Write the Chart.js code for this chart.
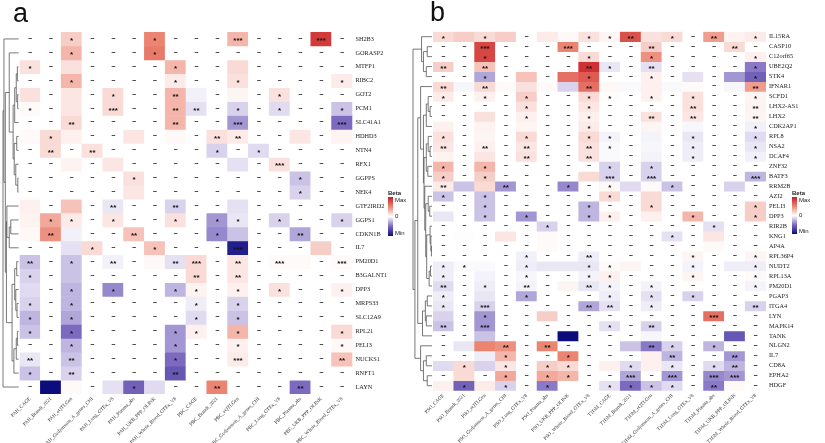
<!DOCTYPE html>
<html>
<head>
<meta charset="utf-8">
<script src="https://cdn.jsdelivr.net/npm/chart.js@4/dist/chart.umd.min.js"></script>
<style>
body{margin:0;background:#fff;width:825px;height:443px;overflow:hidden;position:relative;font-family:"Liberation Sans",Arial,sans-serif}
canvas{position:absolute;top:0}
#ca{left:0}
#cb{left:410px}
.tag{position:absolute;font-size:27px;line-height:1;color:#111}
</style>
</head>
<body>
<canvas id="ca" width="410" height="443"></canvas>
<canvas id="cb" width="415" height="443"></canvas>
<div class="tag" style="left:13px;top:0px">a</div>
<div class="tag" style="left:430px;top:-1px">b</div>
<script>
const n = null;

// ---- panel a ----
const srcCols = ['CAGE','Brandt_2021','eQTLGen','Gudjonsson_A_genes_CHI','Lung_GTEx_V8','Plasma_abs','UKB_PPP_OLINK','Whole_Blood_GTEx_V8'];
const colsA = [...srcCols.map(s => 'PAH_' + s), ...srcCols.map(s => 'PBC_' + s)];
const colsB = [...srcCols.map(s => 'PSO_' + s), ...srcCols.map(s => 'T1DM_' + s)];

const genesA = ['SH2B3','GORASP2','MTFP1','RIBC2','GOT2','PCM1','SLC41A1','HDHD3','NTN4','RFX1','GGPPS','NEK4',
  'GTF2IRD2','GGPS1','CDKN1B','IL7','PM20D1','B3GALNT1','DPP3','MRPS33','SLC12A9','RPL21','PELI3','NUCKS1','RNFT1','LAYN'];

// scaled beta, -1 = Min, 1 = Max, null = not available
const betaA = [
  [n,n,.2,n,n,n,.5,n,n,n,.3,n,n,n,.85,n],
  [n,n,.3,n,n,n,.55,n,n,n,n,n,n,n,n,n],
  [.12,n,.12,n,n,n,n,.3,n,n,.15,n,n,n,n,n],
  [n,n,.3,n,n,n,n,.08,n,n,.12,n,n,n,n,.08],
  [.12,n,.1,n,.15,n,n,.3,-.05,n,.04,n,.12,n,n,n],
  [.02,n,.1,n,.15,n,n,.3,-.1,n,-.15,n,-.12,n,n,-.2],
  [n,n,.15,n,n,n,n,.3,n,n,-.35,n,n,n,n,-.5],
  [.02,.15,.06,n,n,.1,n,.03,n,.12,.08,n,n,.1,n,.05],
  [n,.15,n,.12,n,n,n,n,n,-.15,n,-.12,n,n,n,n],
  [n,n,.05,n,.1,n,n,n,n,n,-.1,n,.12,n,n,n],
  [n,n,n,n,n,.12,n,n,n,n,n,n,n,-.2,n,n],
  [n,n,n,n,n,.1,n,n,n,n,n,n,n,-.15,n,n],
  [.06,n,.25,n,-.08,n,n,-.15,n,n,-.1,n,n,n,n,n],
  [.05,.35,.08,n,.1,n,n,.12,n,-.35,-.08,n,-.15,n,n,-.15],
  [.03,.45,-.05,n,n,.25,n,n,n,-.4,-.2,n,n,-.3,n,n],
  [n,n,-.1,.15,n,n,.25,n,n,n,-.9,n,n,n,.2,n],
  [-.2,n,-.2,n,-.05,n,.03,-.1,.15,n,.1,n,.02,.02,n,.02],
  [-.15,n,-.2,n,n,n,n,n,.15,n,.1,n,n,n,n,n],
  [-.12,n,-.25,n,-.4,n,n,-.25,.05,n,.06,n,.12,n,n,.06],
  [-.15,n,-.25,n,n,n,n,n,-.06,n,-.15,n,n,n,n,n],
  [-.25,n,-.3,n,n,n,n,n,-.12,n,-.2,n,n,n,n,n],
  [-.2,n,-.5,n,n,n,n,-.35,.06,n,.3,n,n,n,n,.15],
  [n,n,-.25,n,n,n,n,-.35,n,n,.06,n,n,n,n,.03],
  [-.08,n,-.2,n,n,n,n,-.5,n,n,.08,n,n,n,n,.25],
  [-.2,n,-.15,n,n,n,n,-.6,n,n,n,n,n,n,n,n],
  [n,-1,.02,n,-.1,-.55,-.12,n,n,.5,n,n,n,-.5,n,n]
];
// "-" not available, "." no star
const sigA = [
  '- - * - - - * - - - *** - - - *** -',
  '- - * - - - * - - - - - - - - -',
  '* - . - - - - * - - . - - - - -',
  '- - * - - - - * - - * - - - - *',
  '. - . - * - - ** . - . - * - - -',
  '* - . - *** - - ** ** - * - * - - *',
  '- - ** - - - - ** - - *** - - - - ***',
  '. * . - - . - . - ** ** - - . - .',
  '- ** - ** - - - - - * - * - - - -',
  '- - . - . - - - - - . - *** - - -',
  '- - - - - * - - - - - - - * - -',
  '- - - - - . - - - - - - - * - -',
  '. - . - ** - - ** - - . - - - - -',
  '. * * - * - - * - * * - * - - *',
  '. ** . - - ** - - - * . - - ** - -',
  '- - . * - - * - - - *** - - - . -',
  '** - * - ** - . ** *** - ** - *** . - ***',
  '* - . - - - - - ** - ** - - - - -',
  '. - * - * - - * * - * - * - - *',
  '* - * - - - - - * - * - - - - -',
  '* - * - - - - - * - * - - - - -',
  '* - * - - - - * * - * - - - - *',
  '- - * - - - - * - - * - - - - *',
  '** - ** - - - - * - - *** - - - - **',
  '* - ** - - - - ** - - - - - - - -',
  '- . . - . * . - - ** - - - ** - -'
];
// [height, left, right], leaves are row indexes
const treeA = [1.0, [0.94, 0, [0.85,
    [0.6, 1, [0.35, [0.25, [0.15, [0.08, 2, 3], [0.06, 4, 5]], 6], [0.28, [0.12, 7, 8], [0.18, 9, [0.05, 10, 11]]]]],
    [0.78, [0.75, 12, [0.6, [0.5, 13, 14], 15]],
      [0.42, [0.25, [0.12, 16, 17], [0.18, 18, [0.1, 19, 20]]], [0.3, [0.15, [0.08, 21, 22], 23], 24]]]]],
  25];

// ---- panel b ----
const genesB = ['IL15RA','CASP10','C12orf65','UBE2Q2','STK4','IFNAR1','SCFD1','LHX2-AS1','LHX2','CDK2AP1','RPL8','NSA2',
  'DCAF4','ZNF32','BATF3','RRM2B','AZI2','PELI3','DPP3','RIR2B','KNG1','AP4A','RPL36P4','NUDT2','RPL13A','PM20D1',
  'PGAP3','ITGA4','LYN','MAPK14','TANK','NLGN2','IL7','CD8A','EPHA2','HDGF'];

const betaB = [
  [.15,.2,.15,.2,n,.08,.03,.12,.04,.75,.12,.15,n,.4,.05,.08],
  [n,n,.8,n,n,n,.5,n,n,n,.2,n,n,n,.15,n],
  [n,n,.8,n,n,n,n,.15,n,n,.45,n,n,n,n,.06],
  [.2,n,.25,n,n,n,n,.9,-.08,n,-.1,n,n,n,n,-.45],
  [n,n,-.3,n,.25,n,.6,.7,n,n,.06,n,-.1,n,-.35,-.55],
  [.15,-.03,.15,.02,.12,.02,-.15,.6,.03,-.02,.06,-.02,.02,n,-.03,.4],
  [.08,n,.06,n,.2,n,n,.15,.01,n,.06,n,.12,n,n,.04],
  [n,n,n,n,.12,n,n,.1,n,n,n,n,.12,n,n,.05],
  [n,n,.12,n,.06,n,n,.06,n,n,.12,n,.1,n,n,.04],
  [.06,n,.05,n,.04,n,n,.08,n,n,.04,n,-.03,n,n,-.05],
  [.12,n,.04,n,.15,n,n,.15,-.04,n,-.04,n,-.08,n,n,-.12],
  [.1,n,.06,n,.1,n,n,.12,-.02,n,-.03,n,-.06,n,n,-.08],
  [.05,n,.1,n,.12,n,n,.12,-.02,n,-.04,n,-.06,n,n,-.05],
  [.3,n,.3,n,n,n,n,n,-.15,n,-.15,n,n,n,n,n],
  [.2,n,.2,n,n,n,n,.15,-.15,n,-.15,n,n,n,n,-.25],
  [.08,-.2,.15,-.35,n,n,-.4,n,.03,-.12,.02,-.2,n,n,-.15,n],
  [-.2,n,-.2,n,n,n,n,n,.15,n,.15,n,n,n,n,n],
  [n,n,-.2,n,n,n,n,-.25,n,n,.15,n,n,n,n,.2],
  [-.08,n,-.2,n,-.35,n,n,-.25,.06,n,.06,n,.3,n,n,.2],
  [n,n,n,n,n,-.15,n,n,n,n,n,n,n,-.1,n,n],
  [n,.01,n,.1,n,.02,n,n,n,n,n,-.1,n,.1,n,n],
  [n,n,n,n,n,.02,n,n,n,n,n,n,n,.02,n,n],
  [n,n,n,n,-.05,n,n,-.06,n,n,n,n,.04,n,n,.04],
  [-.06,-.02,-.02,n,-.06,-.08,-.08,-.08,.02,.04,n,n,-.04,n,-.06,-.06],
  [-.06,n,-.04,n,-.03,n,n,-.04,.06,n,n,n,.04,n,n,.02],
  [-.12,n,-.06,n,-.04,n,.04,-.08,-.04,n,-.04,n,n,n,n,-.04],
  [-.06,n,-.08,n,-.3,n,n,n,-.06,n,-.1,n,-.15,n,n,n],
  [-.08,n,-.15,n,n,n,n,-.3,-.1,n,-.06,n,n,n,n,-.15],
  [-.15,n,-.35,n,n,.2,n,n,n,n,n,n,n,.6,n,n],
  [-.2,n,-.35,n,n,n,n,n,-.1,n,-.15,n,n,n,n,n],
  [n,n,-.2,n,n,n,-1,n,n,n,-.03,n,n,n,-.6,n],
  [n,-.08,.5,.45,n,.5,n,n,n,-.2,-.45,-.15,n,-.25,n,n],
  [n,n,-.06,.3,n,n,.5,n,n,n,.06,-.25,n,n,-.35,n],
  [-.12,.15,-.15,.1,n,.2,.15,n,.06,-.12,.06,-.08,n,-.12,-.25,n],
  [n,.15,n,.35,n,.35,.3,n,n,-.3,n,-.35,n,-.4,-.35,n],
  [.06,-.55,.08,-.15,n,-.45,0,n,-.1,-.5,-.2,-.12,n,-.45,.03,n]
];
const sigB = [
  '* . * . - . . * * ** . * - ** . *',
  '- - *** - - - *** - - - ** - - - ** -',
  '- - * - - - - * - - * - - - - *',
  '** - ** - - - - ** * - ** - - - - *',
  '- - * - . - . * - - * - . - . *',
  '** . ** . . . . ** . . . . . - . **',
  '* - * - * - - * * - * - * - - *',
  '- - - - * - - * - - - - ** - - **',
  '- - . - * - - * - - ** - ** - - **',
  '. - . - . - - * - - . - . - - *',
  '* - . - * - - * * - . - * - - *',
  '** - ** - ** - - ** * - . - * - - *',
  '. - . - ** - - ** . - . - * - - *',
  '* - * - - - - - * - * - - - - -',
  '* - * - - - - . *** - *** - - - - ***',
  '** . . ** - - * - * . . * - - . -',
  '* - * - - - - - * - . - - - - -',
  '- - * - - - - * - - * - - - - *',
  '. - * - * - - * * - . - * - - *',
  '- - - - - * - - - - - - - * - -',
  '- . - . - . - - - - - * - . - -',
  '- - - - - . - - - - - - - . - -',
  '- - - - * - - ** - - - - * - - *',
  '* * . - * . . * * . - - * - . *',
  '* - . - * - - * * - - - * - - *',
  '** - * - ** - . ** * - * - - - - *',
  '* - . - * - - - * - * - * - - -',
  '* - *** - - - - ** ** - * - - - - **',
  '. - * - - . - - - - - - - *** - -',
  '** - *** - - - - - * - ** - - - - -',
  '- - . - - - . - - - . - - - . -',
  '- . . ** - ** - - - . ** * - * - -',
  '- - . * - - * - - - . ** - - ** -',
  '. * . * - * * - . * . * - * ** -',
  '- . - * - * * - - *** - *** - *** *** -',
  '. * . * - * . - * * * * - ** . -'
];
const treeB = [1.0,
  [0.55, 0, [0.45, [0.25, 1, 2], [0.3, 3, 4]]],
  [0.9,
    [0.75,
      [0.6, 5, [0.45, [0.3, [0.2, 6, [0.1, 7, 8]], 9],
        [0.42, [0.3, [0.2, 10, [0.1, 11, 12]], [0.22, 13, 14]],
          [0.38, 15, [0.33, [0.2, 16, [0.12, 17, 18]],
            [0.28, [0.1, 19, [0.06, 20, [0.03, 21, 22]]], [0.15, [0.08, 23, 24], 25]]]]]]],
      [0.5, [0.35, [0.25, 26, 27], [0.3, 28, 29]], 30]],
    [0.6, 31, [0.45, [0.3, 32, 33], [0.25, 34, 35]]]]];

// ---- colours ----
const stops = [[-1,[12,12,125]],[-0.5,[124,106,192]],[0,[255,255,255]],[0.5,[236,132,114]],[1,[200,28,34]]];
function betaColor(v){
  if (v === null) return '#ffffff';
  v = Math.max(-1, Math.min(1, v));
  for (let k = 0; k < stops.length - 1; k++) {
    const [a, ca] = stops[k], [b, cb] = stops[k + 1];
    if (v <= b) {
      const t = (v - a) / (b - a);
      return 'rgb(' + ca.map((c, i) => Math.round(c + (cb[i] - c) * t)).join(',') + ')';
    }
  }
}

function dendroPlugin(tree, rootX){
  return {id: 'dendro', afterDraw(chart){
    const ctx = chart.ctx, ys = chart.scales.y, left = chart.chartArea.left - 1;
    const hx = h => left - h * (left - rootX);
    ctx.save();
    ctx.strokeStyle = '#555';
    ctx.lineWidth = 0.8;
    function walk(node){
      if (typeof node === 'number') return {x: left, y: ys.getPixelForValue(node + 0.5)};
      const [h, a, b] = node;
      const pa = walk(a), pb = walk(b), x = hx(h);
      ctx.beginPath();
      ctx.moveTo(pa.x, pa.y); ctx.lineTo(x, pa.y); ctx.lineTo(x, pb.y); ctx.lineTo(pb.x, pb.y);
      ctx.stroke();
      return {x, y: (pa.y + pb.y) / 2};
    }
    walk(tree);
    ctx.restore();
  }};
}

function sigPlugin(sig){
  return {id: 'sig', afterDatasetsDraw(chart){
    const ctx = chart.ctx;
    ctx.save();
    ctx.fillStyle = '#111';
    ctx.textAlign = 'center';
    ctx.textBaseline = 'middle';
    sig.forEach((row, i) => {
      const meta = chart.getDatasetMeta(i);
      row.split(' ').forEach((t, j) => {
        const bar = meta.data[j];
        const cx = bar.x, cy = (bar.y + bar.base) / 2;
        if (t === '-') {
          ctx.font = 'bold 7px "Liberation Sans"';
          ctx.fillText('\u2212', cx, cy);
        } else if (t !== '.') {
          ctx.font = 'bold 8px "Liberation Sans"';
          ctx.fillText(t, cx, cy + 2);
        }
      });
    });
    ctx.restore();
  }};
}

function legendPlugin(x, top, h){
  return {id: 'betaLegend', afterDraw(chart){
    const ctx = chart.ctx;
    const g = ctx.createLinearGradient(0, top, 0, top + h);
    [[0,1],[0.25,0.5],[0.5,0],[0.75,-0.5],[1,-1]].forEach(([o, v]) => g.addColorStop(o, betaColor(v)));
    ctx.save();
    ctx.fillStyle = g;
    ctx.fillRect(x, top, 5, h);
    ctx.fillStyle = '#222';
    ctx.textAlign = 'left';
    ctx.font = 'bold 6px "Liberation Sans"';
    ctx.textBaseline = 'alphabetic';
    ctx.fillText('Beta', x, top - 2);
    ctx.font = '6px "Liberation Sans"';
    ctx.textBaseline = 'middle';
    ctx.fillText('Max', x + 7, top + 3);
    ctx.fillText('0', x + 7, top + h / 2);
    ctx.fillText('Min', x + 7, top + h - 3);
    ctx.restore();
  }};
}

function makeChart(id, cols, genes, beta, sig, tree, g){
  const datasets = genes.map((gene, i) => ({
    label: gene,
    data: beta[i].map(() => [i, i + 1]),
    backgroundColor: beta[i].map(betaColor),
    borderWidth: 0,
    barPercentage: 1,
    categoryPercentage: 1
  }));
  return new Chart(document.getElementById(id), {
    type: 'bar',
    data: {labels: cols, datasets},
    options: {
      responsive: false,
      animation: false,
      events: [],
      layout: {padding: {left: g.left, top: g.top, right: 0, bottom: 0}},
      plugins: {legend: {display: false}, tooltip: {enabled: false}},
      scales: {
        x: {
          stacked: true,
          grid: {display: false, drawTicks: false},
          border: {display: false},
          ticks: {font: {family: 'Liberation Serif', size: 5}, color: '#333', minRotation: 45, maxRotation: 45, autoSkip: false, padding: 2},
          afterFit(s){ s.height = g.xh; }
        },
        y: {
          min: 0, max: genes.length, reverse: true, position: 'right',
          grid: {display: false, drawTicks: false},
          border: {display: false},
          afterBuildTicks(s){ s.ticks = genes.map((_, i) => ({value: i + 0.5})); },
          ticks: {autoSkip: false, font: {family: 'Liberation Serif', size: g.rowFont}, color: '#222', padding: 3,
            callback: (v, i) => genes[i]},
          afterFit(s){ s.width = g.yw; }
        }
      }
    },
    plugins: [sigPlugin(sig), dendroPlugin(tree, g.rootX), legendPlugin(g.legX, g.legTop, g.legH)]
  });
}

makeChart('ca', colsA, genesA, betaA, sigA, treeA,
  {left: 19.6, top: 32, xh: 49, yw: 57.6, rootX: 3, legX: 388, legTop: 197, legH: 39, rowFont: 6.3});
makeChart('cb', colsB, genesB, betaB, sigB, treeB,
  {left: 23, top: 31.7, xh: 52.3, yw: 59, rootX: 3, legX: 382, legTop: 197, legH: 37, rowFont: 6.3});
</script>
</body>
</html>
